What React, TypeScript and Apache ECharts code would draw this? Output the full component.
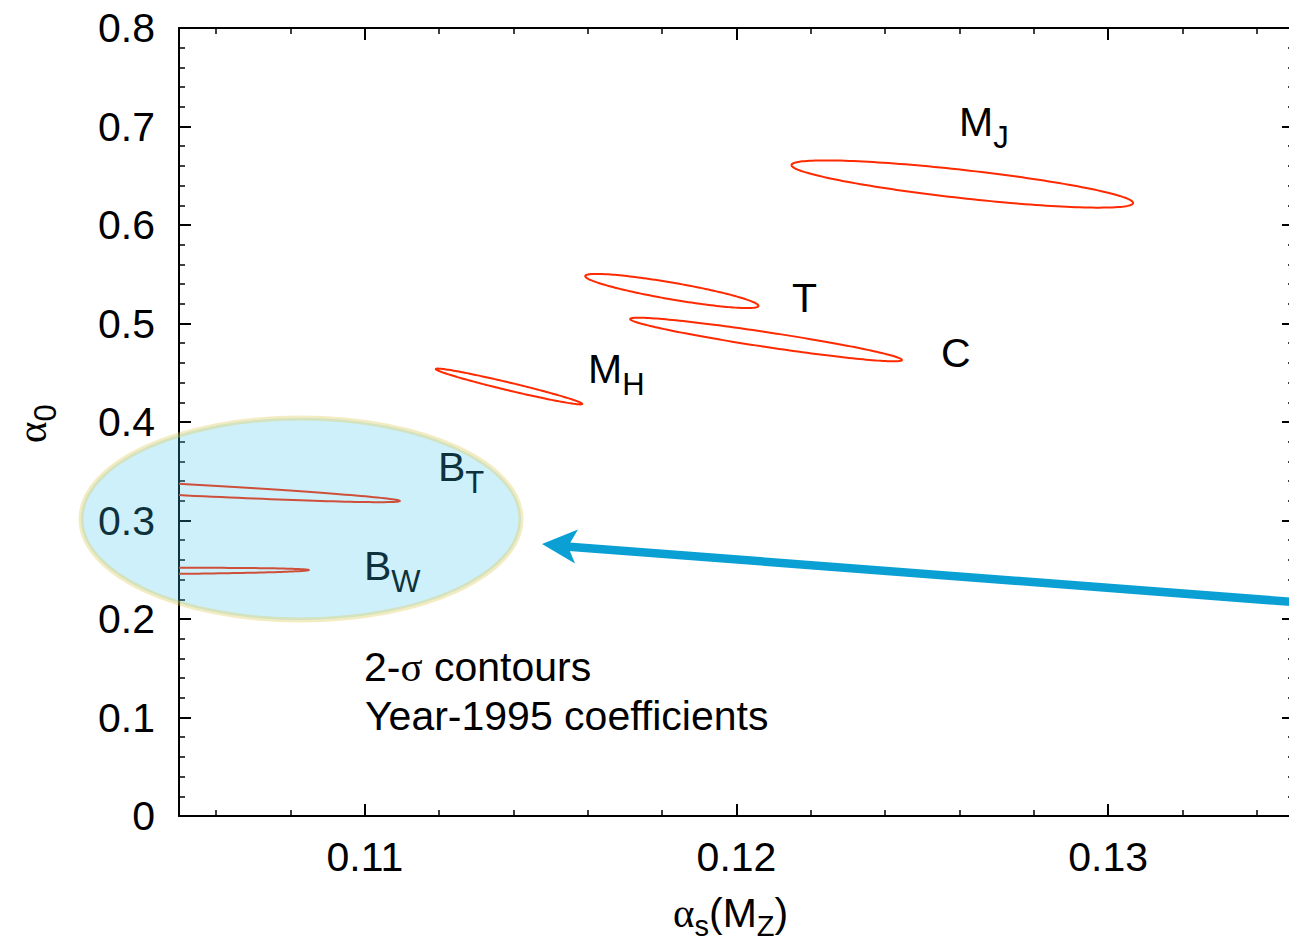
import React, { useEffect, useRef } from 'react';
import * as echarts from 'echarts';

// ---- data ----
const contourNames = ['M_J', 'T', 'C', 'M_H', 'B_T', 'B_W'];
const tipLeftX = [0.12148, 0.11593, 0.11714, 0.11191, 0.09704, 0.09987];
const tipLeftY = [0.6609, 0.5482, 0.5046, 0.4538, 0.3472, 0.2477];
const tipRightX = [0.13067, 0.12059, 0.12445, 0.11585, 0.11094, 0.10849];
const tipRightY = [0.6223, 0.5178, 0.4629, 0.4183, 0.3198, 0.2497];
const halfThickness = [0.0144, 0.0086, 0.0076, 0.0041, 0.0058, 0.0031];

const xMin = 0.105;
const xMax = 0.135;
const yMin = 0;
const yMax = 0.8;
const yInterval = 0.1;

const FONT = '"Liberation Sans", Arial, Helvetica, sans-serif';
const SERIF = '"Liberation Serif", "DejaVu Serif", serif';
const RED = '#ff2a00';
const ARROW = '#0aa0d4';
const SUB = 31;

let measureCtx: CanvasRenderingContext2D | null = null;
function measure(text: string, size: number, family: string): number {
  if (!measureCtx) measureCtx = document.createElement('canvas').getContext('2d');
  if (!measureCtx) return text.length * size * 0.55;
  measureCtx.font = `${size}px ${family}`;
  return measureCtx.measureText(text).width;
}

type Part = { t: string; size?: number; family?: string; dy?: number };

// builds text elements: x = left, baseline = y of baseline (local coords)
function run(x: number, baseline: number, parts: Part[], z: number) {
  const els: any[] = [];
  let cx = x;
  for (const p of parts) {
    const size = p.size ?? 41;
    const family = p.family ?? FONT;
    const dy = p.dy ?? 0;
    els.push({
      type: 'text',
      x: cx,
      y: baseline + dy - 0.35 * size,
      z,
      silent: true,
      style: {
        text: p.t,
        fontSize: size,
        fontFamily: family,
        fill: '#000',
        align: 'left',
        verticalAlign: 'middle',
        textAlign: 'left',
        textVerticalAlign: 'middle',
      },
    });
    cx += measure(p.t, size, family);
  }
  return els;
}

export default function App() {
  const ref = useRef<HTMLDivElement>(null);

  useEffect(() => {
    if (!ref.current) return;
    const chart = echarts.init(ref.current, undefined, { renderer: 'svg' });

    const contourData = contourNames.map((_, i) => [
      tipLeftX[i], tipLeftY[i], tipRightX[i], tipRightY[i], halfThickness[i],
    ]);

    const axisCommonX = {
      type: 'value',
      min: xMin,
      max: xMax,
      splitNumber: 3,
      axisLine: { show: true, onZero: false, lineStyle: { color: '#000', width: 2 } },
      axisTick: { show: true, inside: true, length: 12, lineStyle: { color: '#000', width: 2 } },
      minorTick: { show: true, splitNumber: 5, length: 6, lineStyle: { color: '#000', width: 1.5 } },
      splitLine: { show: false },
      minorSplitLine: { show: false },
    };
    const axisCommonY = {
      type: 'value',
      min: yMin,
      max: yMax,
      interval: yInterval,
      axisLine: { show: true, onZero: false, lineStyle: { color: '#000', width: 2 } },
      axisTick: { show: true, inside: true, length: 12, lineStyle: { color: '#000', width: 2 } },
      minorTick: { show: true, splitNumber: 5, length: 6, lineStyle: { color: '#000', width: 1.5 } },
      splitLine: { show: false },
      minorSplitLine: { show: false },
    };

    const graphics: any[] = [];
    // contour labels
    graphics.push(...run(959, 136, [{ t: 'M' }, { t: 'J', size: SUB, dy: 12 }], 50));
    graphics.push(...run(792, 312, [{ t: 'T' }], 50));
    graphics.push(...run(941, 367, [{ t: 'C' }], 50));
    graphics.push(...run(588, 383, [{ t: 'M' }, { t: 'H', size: SUB, dy: 12 }], 50));
    graphics.push(...run(438, 481, [{ t: 'B' }, { t: 'T', size: SUB, dy: 12 }], 50));
    graphics.push(...run(364, 580, [{ t: 'B' }, { t: 'W', size: SUB, dy: 12 }], 50));
    // note
    graphics.push(...run(364, 681, [{ t: '2-' }, { t: 'σ', family: SERIF }, { t: ' contours' }], 50));
    graphics.push(...run(365, 730, [{ t: 'Year-1995 coefficients' }], 50));
    // x axis title
    graphics.push(...run(673, 927, [
      { t: 'α', family: SERIF },
      { t: 's', size: 29, dy: 9 },
      { t: '(M' },
      { t: 'Z', size: 29, dy: 9 },
      { t: ')' },
    ], 50));
    // y axis title (rotated)
    graphics.push({
      type: 'group',
      x: 46,
      y: 443,
      rotation: Math.PI / 2,
      children: run(0, 0, [{ t: 'α', family: SERIF }, { t: '0', size: 31, dy: 10 }], 50),
    });
    // highlight ellipse (overlay)
    graphics.push({
      type: 'ellipse',
      z: 100,
      silent: true,
      shape: { cx: 301, cy: 519, rx: 220, ry: 101 },
      style: { fill: 'rgba(58,196,235,0.25)', stroke: 'rgba(220,200,80,0.35)', lineWidth: 5 },
    });
    // arrow
    graphics.push({
      type: 'polyline',
      z: 101,
      silent: true,
      shape: { points: [[1300, 602.5], [566, 546.5]] },
      style: { stroke: ARROW, lineWidth: 8.5, fill: null },
    });
    graphics.push({
      type: 'polygon',
      z: 101,
      silent: true,
      shape: { points: [[542, 544], [578, 529.5], [568, 546.5], [575, 563.5]] },
      style: { fill: ARROW },
    });

    const option: any = {
      animation: false,
      backgroundColor: '#fff',
      grid: { left: 179, top: 28, width: 1115, height: 788, containLabel: false },
      xAxis: [
        {
          ...axisCommonX,
          position: 'bottom',
          axisLabel: {
            show: true,
            margin: 20,
            fontSize: 41,
            fontFamily: FONT,
            color: '#000',
            showMinLabel: false,
            showMaxLabel: false,
            formatter: (v: number) =>
              Math.abs(v * 100 - Math.round(v * 100)) < 1e-6 ? v.toFixed(2) : '',
          },
        },
        { ...axisCommonX, position: 'top', axisLabel: { show: false } },
      ],
      yAxis: [
        {
          ...axisCommonY,
          position: 'left',
          axisLabel: {
            show: true,
            margin: 24,
            fontSize: 41,
            fontFamily: FONT,
            color: '#000',
            formatter: (v: number) => (Math.abs(v) < 1e-9 ? '0' : v.toFixed(1)),
          },
        },
        { ...axisCommonY, position: 'right', axisLabel: { show: false } },
      ],
      series: [
        {
          type: 'custom',
          name: 'contours',
          xAxisIndex: 0,
          yAxisIndex: 0,
          clip: true,
          silent: true,
          z: 5,
          data: contourData,
          encode: { x: [0, 2], y: [1, 3] },
          renderItem: (params: any, api: any) => {
            const p1 = api.coord([api.value(0), api.value(1)]);
            const p2 = api.coord([api.value(2), api.value(3)]);
            const h = api.value(4);
            const cx = (p1[0] + p2[0]) / 2;
            const cy = (p1[1] + p2[1]) / 2;
            const dx = p2[0] - p1[0];
            const dy = p2[1] - p1[1];
            const a = Math.hypot(dx, dy) / 2;
            const th = Math.atan2(dy, dx);
            const v = Math.abs(api.size([0, h])[1]);
            const s = Math.sin(th);
            const c = Math.cos(th);
            const b = c / Math.sqrt(1 / (v * v) - (s * s) / (a * a));
            const pts: number[][] = [];
            const N = 180;
            for (let k = 0; k <= N; k++) {
              const t = (k / N) * Math.PI * 2;
              const u = a * Math.cos(t);
              const w = b * Math.sin(t);
              pts.push([cx + u * c - w * s, cy + u * s + w * c]);
            }
            return {
              type: 'polygon',
              shape: { points: pts },
              style: { fill: 'none', stroke: RED, lineWidth: 2 },
            };
          },
        },
      ],
      graphic: { elements: graphics },
    };

    chart.setOption(option);
    return () => chart.dispose();
  }, []);

  return (
    <div
      ref={ref}
      style={{ position: 'fixed', left: 0, top: 0, width: 1297, height: 942, background: '#fff' }}
    />
  );
}
